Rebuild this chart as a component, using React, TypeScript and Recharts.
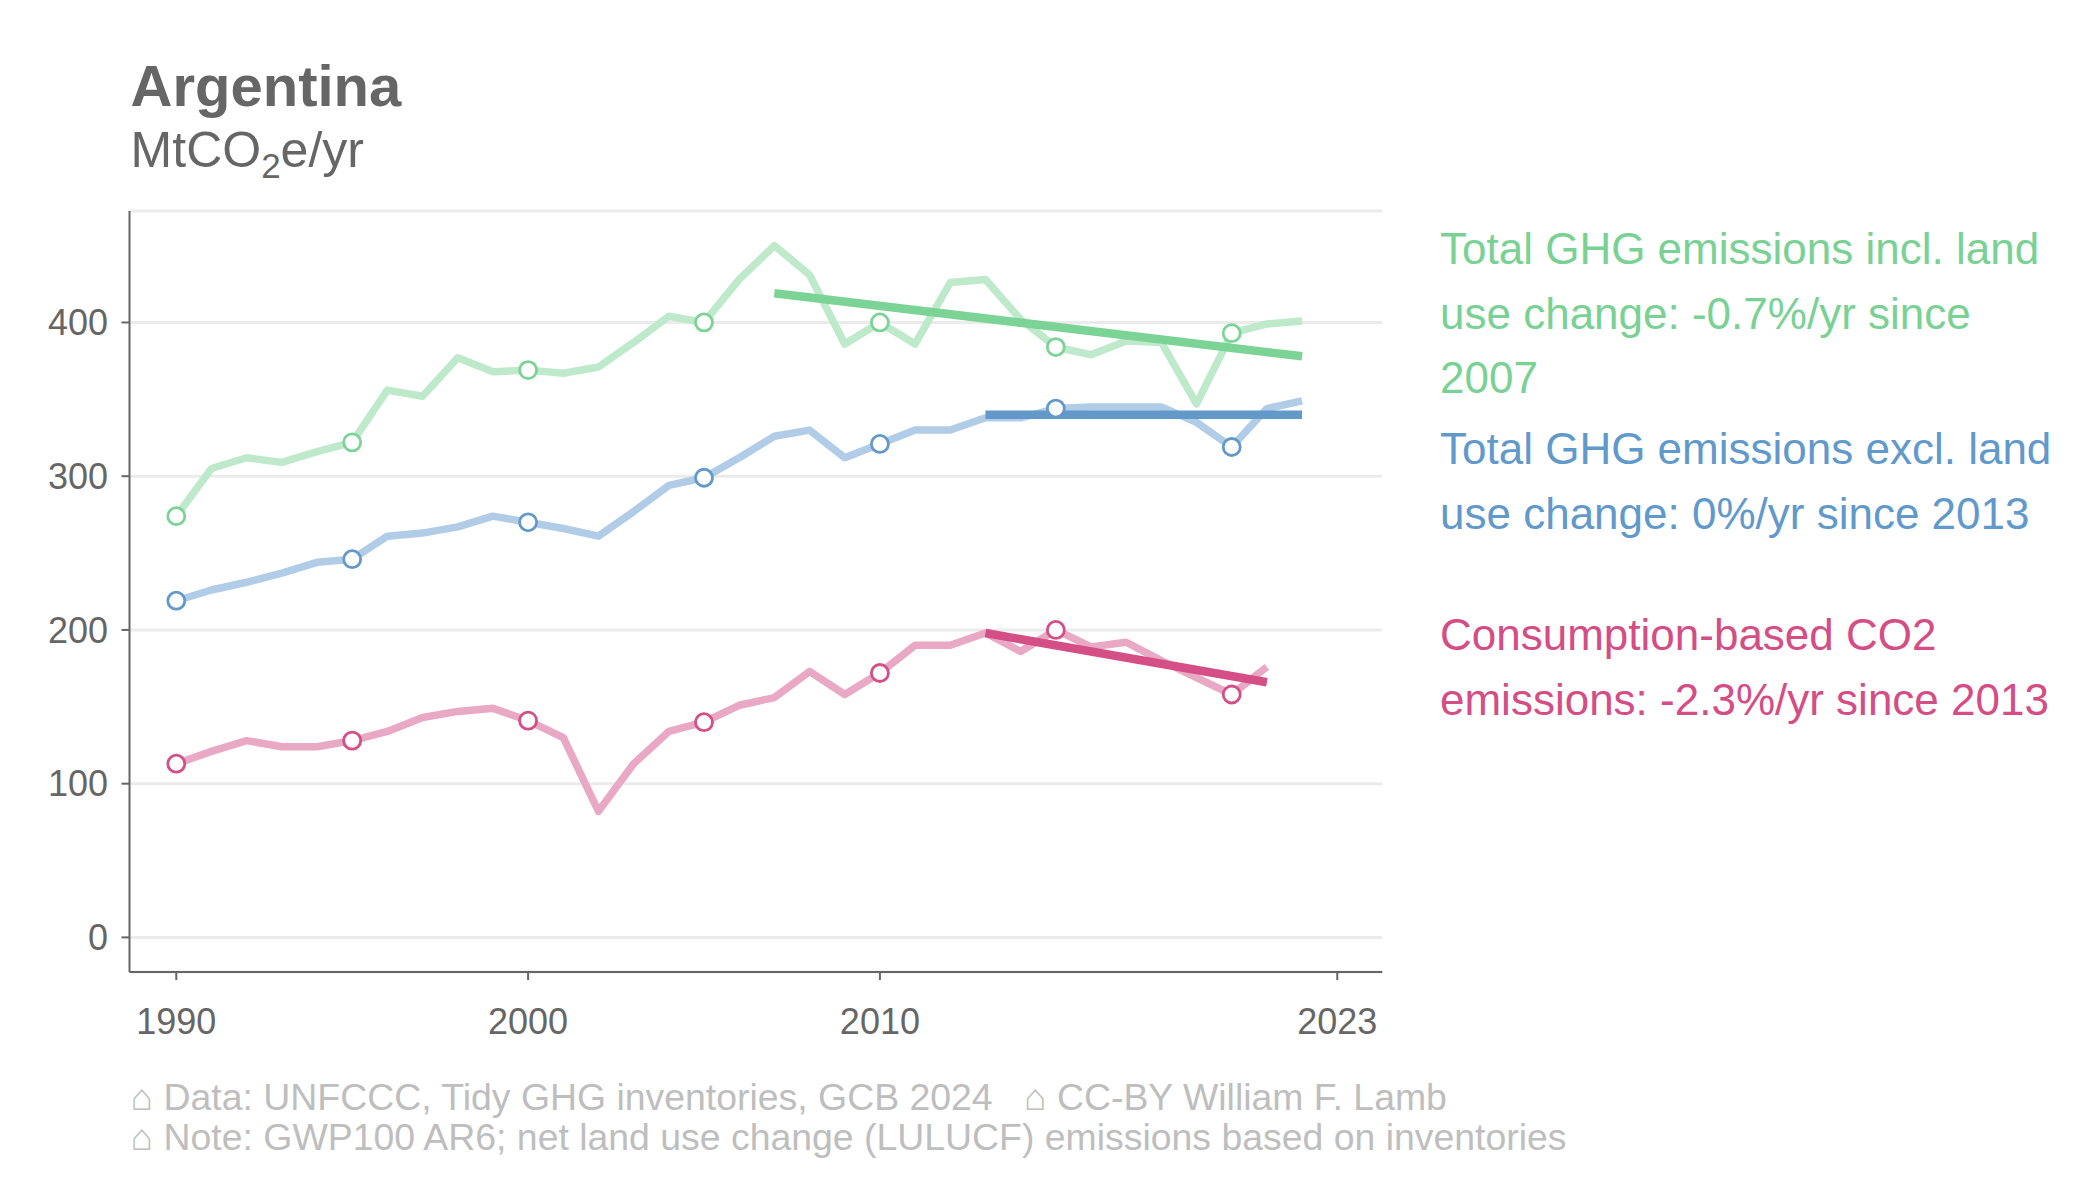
import React from "react";
import { LineChart, Line, XAxis, YAxis, CartesianGrid } from "recharts";

const YEARS = [1990, 1991, 1992, 1993, 1994, 1995, 1996, 1997, 1998, 1999, 2000, 2001, 2002, 2003, 2004, 2005, 2006, 2007, 2008, 2009, 2010, 2011, 2012, 2013, 2014, 2015, 2016, 2017, 2018, 2019, 2020, 2021, 2022];
const INCL_LUC = [274, 305, 312, 309, 316, 322, 356, 352, 377, 368, 369, 367, 371, 387, 404, 400, 428, 450, 431, 386, 400, 386, 426, 428, 402, 384, 379, 388, 387, 347, 393, 399, 401];
const EXCL_LUC = [219, 226, 231, 237, 244, 246, 261, 263, 267, 274, 270, 266, 261, 277, 294, 299, 312, 326, 330, 312, 321, 330, 330, 338, 338, 344, 345, 345, 345, 335, 319, 344, 349];
const CONSUMPTION = [113, 121, 128, 124, 124, 128, 134, 143, 147, 149, 141, 130, 82, 113, 134, 140, 151, 156, 173, 158, 172, 190, 190, 198, 186, 200, 189, 192, 180, 169, 158, 176, null];

const TREND_INCL_YEARS = [2007, 2022];
const TREND_INCL_VALUES = [419, 378];
const TREND_EXCL_YEARS = [2013, 2022];
const TREND_EXCL_VALUES = [340, 340];
const TREND_CONS_YEARS = [2013, 2021];
const TREND_CONS_VALUES = [198, 166];

const X_TICKS = [1990, 2000, 2010, 2023];
const Y_TICKS = [0, 100, 200, 300, 400];

const LABEL_INCL = ["Total GHG emissions incl. land", "use change: -0.7%/yr since", "2007"];
const LABEL_EXCL = ["Total GHG emissions excl. land", "use change: 0%/yr since 2013"];
const LABEL_CONS = ["Consumption-based CO2", "emissions: -2.3%/yr since 2013"];

const trendAt = (years: number[], values: number[], y: number) => {
  const i = years.indexOf(y);
  return i >= 0 ? values[i] : null;
};

const data = YEARS.map((year, i) => ({
  year,
  incl: INCL_LUC[i],
  excl: EXCL_LUC[i],
  cons: CONSUMPTION[i],
  tIncl: trendAt(TREND_INCL_YEARS, TREND_INCL_VALUES, year),
  tExcl: trendAt(TREND_EXCL_YEARS, TREND_EXCL_VALUES, year),
  tCons: trendAt(TREND_CONS_YEARS, TREND_CONS_VALUES, year),
}));

const FONT = "'Liberation Sans', Arial, Helvetica, sans-serif";

const GREEN_LIGHT = "#BEE9CB";
const GREEN = "#7BD396";
const BLUE_LIGHT = "#B1CCE6";
const BLUE = "#6399C9";
const PINK_LIGHT = "#E9A8C4";
const PINK = "#D44F86";

const makeDot = (stroke: string) => (props: any) => {
  const { cx, cy, payload } = props;
  const k = `dot-${stroke}-${payload?.year}`;
  if (cx == null || cy == null || payload == null || payload.year % 5 !== 0) {
    return <g key={k} />;
  }
  return <circle key={k} cx={cx} cy={cy} r={8.5} fill="#ffffff" stroke={stroke} strokeWidth={2.8} />;
};

export default function App() {
  const tickStyle = { fontSize: 36, fill: "#666666", fontFamily: FONT };
  return (
    <div style={{ position: "absolute", left: 0, top: 0, width: 2100, height: 1200, background: "#ffffff" }}>
      <LineChart
        width={2100}
        height={1200}
        data={data}
        margin={{ top: 211, right: 717.7, bottom: 168, left: 29.5 }}
      >
        <CartesianGrid horizontal={true} vertical={false} stroke="#EBEBEB" strokeWidth={3} />
        <XAxis
          dataKey="year"
          type="number"
          domain={[1988.67, 2024.28]}
          allowDataOverflow={true}
          ticks={X_TICKS}
          height={60}
          tickSize={8}
          tickMargin={28}
          axisLine={{ stroke: "#666666", strokeWidth: 2 }}
          tickLine={{ stroke: "#666666", strokeWidth: 2 }}
          tick={tickStyle}
          interval={0}
        />
        <YAxis
          type="number"
          domain={[-22.5, 472.5]}
          allowDataOverflow={true}
          ticks={Y_TICKS}
          width={100}
          tickSize={8}
          tickMargin={13.5}
          axisLine={{ stroke: "#666666", strokeWidth: 2 }}
          tickLine={{ stroke: "#666666", strokeWidth: 2 }}
          tick={tickStyle}
          interval={0}
        />
        <Line dataKey="incl" type="linear" stroke={GREEN_LIGHT} strokeWidth={7.5} strokeLinejoin="round" dot={makeDot(GREEN)} activeDot={false} isAnimationActive={false} />
        <Line dataKey="excl" type="linear" stroke={BLUE_LIGHT} strokeWidth={7.5} strokeLinejoin="round" dot={makeDot(BLUE)} activeDot={false} isAnimationActive={false} />
        <Line dataKey="cons" type="linear" stroke={PINK_LIGHT} strokeWidth={7.5} strokeLinejoin="round" dot={makeDot(PINK)} activeDot={false} isAnimationActive={false} />
        <Line dataKey="tIncl" type="linear" stroke={GREEN} strokeWidth={8.5} connectNulls={true} dot={false} activeDot={false} isAnimationActive={false} />
        <Line dataKey="tExcl" type="linear" stroke={BLUE} strokeWidth={8.5} connectNulls={true} dot={false} activeDot={false} isAnimationActive={false} />
        <Line dataKey="tCons" type="linear" stroke={PINK} strokeWidth={8.5} connectNulls={true} dot={false} activeDot={false} isAnimationActive={false} />
      </LineChart>
      <svg width={2100} height={1200} style={{ position: "absolute", left: 0, top: 0, pointerEvents: "none" }}>
        <text x={130.6} y={106} fontFamily={FONT} fontSize={58} fontWeight="bold" fill="#666666">Argentina</text>
        <text x={130.6} y={167} fontFamily={FONT} fontSize={50} fill="#666666">
          MtCO<tspan fontSize={35} dy={11}>2</tspan><tspan fontSize={50} dy={-11}>e/yr</tspan>
        </text>
        {LABEL_INCL.map((t, i) => (
          <text key={`li${i}`} x={1440} y={[264, 329, 393][i]} fontFamily={FONT} fontSize={44} fill="#79D194">{t}</text>
        ))}
        {LABEL_EXCL.map((t, i) => (
          <text key={`le${i}`} x={1440} y={[463.5, 528.5][i]} fontFamily={FONT} fontSize={44} fill="#6199CB">{t}</text>
        ))}
        {LABEL_CONS.map((t, i) => (
          <text key={`lc${i}`} x={1440} y={[650, 714.5][i]} fontFamily={FONT} fontSize={44} fill="#D44D84">{t}</text>
        ))}
        <text x={130.6} y={1109.5} fontFamily={FONT} fontSize={37.4} fill="#BEBEBE">⌂ Data: UNFCCC, Tidy GHG inventories, GCB 2024</text>
        <text x={1024} y={1109.5} fontFamily={FONT} fontSize={37.4} fill="#BEBEBE">⌂ CC-BY William F. Lamb</text>
        <text x={130.6} y={1150} fontFamily={FONT} fontSize={37.4} fill="#BEBEBE">⌂ Note: GWP100 AR6; net land use change (LULUCF) emissions based on inventories</text>
      </svg>
    </div>
  );
}
